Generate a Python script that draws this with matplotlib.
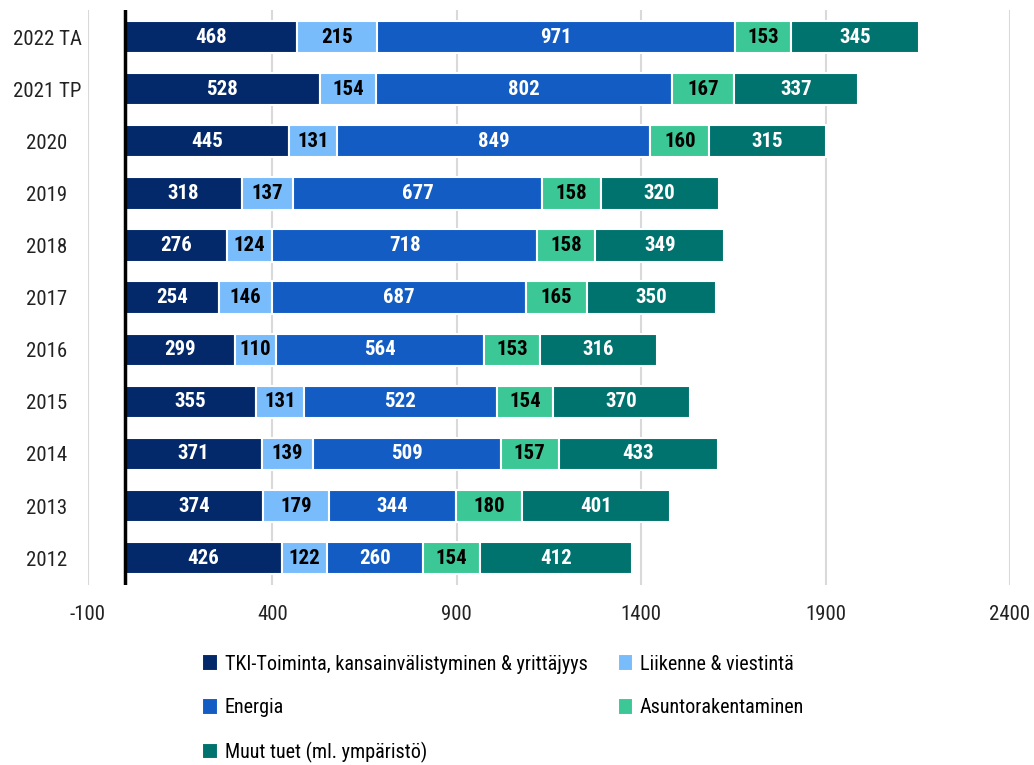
import matplotlib
matplotlib.use("Agg")
import matplotlib.pyplot as plt
from matplotlib import font_manager as fm
import numpy as np

names = {f.name for f in fm.fontManager.ttflist}
fam = "DejaVu Sans"
for cand in ["Roboto Condensed", "Open Sans Condensed", "Liberation Sans Narrow", "DejaVu Sans"]:
    if cand in names:
        fam = cand
        break
plt.rcParams['font.family'] = [fam, 'DejaVu Sans']
plt.rcParams['font.stretch'] = 'condensed'
plt.rcParams['axes.unicode_minus'] = False

years = ["2022 TA", "2021 TP", "2020", "2019", "2018", "2017", "2016", "2015", "2014", "2013", "2012"]
tki = [468, 528, 445, 318, 276, 254, 299, 355, 371, 374, 426]
liikenne = [215, 154, 131, 137, 124, 146, 110, 131, 139, 179, 122]
energia = [971, 802, 849, 677, 718, 687, 564, 522, 509, 344, 260]
asunto = [153, 167, 160, 158, 158, 165, 153, 154, 157, 180, 154]
muut = [345, 337, 315, 320, 349, 350, 316, 370, 433, 401, 412]

series = [
    ("TKI-Toiminta, kansainvälistyminen & yrittäjyys", tki, "#03296b", "white"),
    ("Liikenne & viestintä", liikenne, "#78bcfc", "black"),
    ("Energia", energia, "#125cc4", "white"),
    ("Asuntorakentaminen", asunto, "#3cc797", "black"),
    ("Muut tuet (ml. ympäristö)", muut, "#00736f", "white"),
]

fig = plt.figure(figsize=(10.34, 7.65), dpi=100)
ax = fig.add_axes([0.0851, 0.235, 0.8917, 0.752])

y = np.arange(len(years))[::-1]
left = np.zeros(len(years))
handles = []
for name, vals, col, tc in series:
    vals = np.array(vals, dtype=float)
    bars = ax.barh(y, vals, left=left, height=0.62, color=col, edgecolor="white",
                   linewidth=1.5, label=name, zorder=3)
    handles.append(bars)
    for yi, l, v in zip(y, left, vals):
        ax.text(l + v / 2, yi, f"{int(v)}", ha="center", va="center", color=tc,
                fontsize=15, fontweight="bold", zorder=4)
    left += vals

ax.set_xlim(-100, 2400)
ax.set_ylim(-0.52, 10.52)
ax.set_xticks([-100, 400, 900, 1400, 1900, 2400])
ax.set_yticks(y)
ax.set_yticklabels(years)
ax.tick_params(axis="both", length=0, labelsize=15, colors="#222222")
ax.tick_params(axis="y", pad=29.5)
for lab in ax.get_yticklabels():
    lab.set_horizontalalignment("center")
ax.tick_params(axis="x", pad=14)
ax.xaxis.grid(True, color="#d9d9d9", linewidth=1.5, zorder=0)
for s in ax.spines.values():
    s.set_visible(False)
ax.axvline(0, color="black", linewidth=2.5, zorder=5)

order = [0, 2, 4, 1, 3]
fig.legend(handles=[handles[i] for i in order], labels=[series[i][0] for i in order],
           loc="upper left", bbox_to_anchor=(0.188, 0.155), ncol=2, frameon=False, fontsize=14.5,
           handlelength=0.75, handleheight=0.9, handletextpad=0.35,
           columnspacing=1.5, labelspacing=1.2, borderaxespad=0)

fig.savefig("out.png", dpi=100)
